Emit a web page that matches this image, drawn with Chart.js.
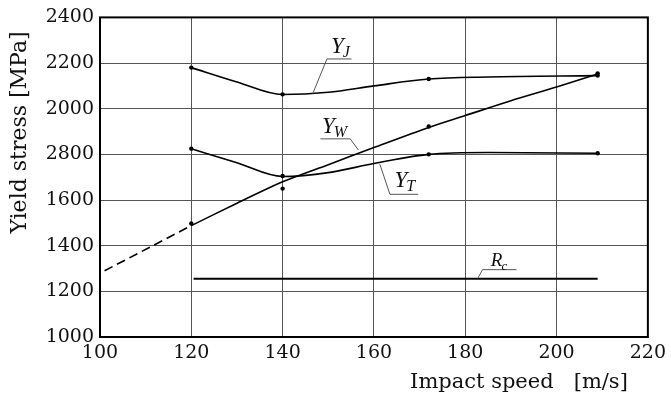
<!DOCTYPE html>
<html>
<head>
<meta charset="utf-8">
<script src="https://cdn.jsdelivr.net/npm/chart.js@4.4.0/dist/chart.umd.min.js"></script>
<style>
  body { margin: 0; background: #fff; }
  canvas { display: block; }
</style>
</head>
<body>
<canvas id="myChart" width="671" height="395"></canvas>
<script>
// axes
var speedMin = 100, speedMax = 220, speedStep = 20;
var stressMin = 1000, stressMax = 2400, stressStep = 200;
// the drawing labels the 1800 line as "2800", kept as printed
var stressTickLabels = ['1000', '1200', '1400', '1600', '2800', '2000', '2200', '2400'];

// measured points (dots)
var measuredSpeed = [120, 140, 172, 209];
var yjPoints = [2180, 2063, 2130, 2145];
var ytPoints = [1825, 1705, 1800, 1805];
var ywPoints = [1497, 1650, 1922, 2155];

// fitted curves
var yjCurveX = [120, 130, 140, 150, 160, 172, 185, 209];
var yjCurveY = [2180, 2117, 2062, 2072, 2100, 2130, 2139, 2145];
var ytCurveX = [120, 130, 140, 150, 160, 172, 185, 209];
var ytCurveY = [1825, 1763, 1703, 1720, 1760, 1800, 1808, 1805];
var ywCurveX = [120, 130, 140, 150, 160, 172, 180, 190, 200, 209];
var ywCurveY = [1488, 1586, 1680, 1755, 1830, 1918, 1970, 2035, 2095, 2152];
var ywDashX = [101, 120];
var ywDashY = [1290, 1488];
var rcX = [120.5, 209];
var rcY = [1255, 1255];

function zip(xs, ys) {
  var out = [];
  for (var i = 0; i < xs.length; i++) {
    out.push({x: xs[i], y: ys[i]});
  }
  return out;
}

// curve labels: underline + leader line, in data units
var curveLabels = [
  {main: 'Y', sub: 'J', size: 23, tx: 150.6, ux1: 149.7, ux2: 155.1, uy: 2218, lx: 146.6, ly: 2066, from: 'left', lift: 6},
  {main: 'Y', sub: 'W', size: 23, tx: 148.6, ux1: 148.3, ux2: 154.8, uy: 1868, lx: 156.6, ly: 1819, from: 'right', lift: 6},
  {main: 'Y', sub: 'T', size: 23, tx: 164.5, ux1: 163.5, ux2: 169.7, uy: 1625, lx: 161.3, ly: 1757, from: 'left', lift: 7},
  {main: 'R', sub: 'c', size: 19, tx: 185.6, ux1: 183.8, ux2: 191.2, uy: 1295, lx: 182.7, ly: 1256, from: 'left', lift: 4}
];

var frameAndLabels = {
  id: 'frameAndLabels',
  afterDatasetsDraw: function(chart) {
    var ctx = chart.ctx;
    var area = chart.chartArea;
    var xs = chart.scales.x;
    var ys = chart.scales.y;
    ctx.save();

    // thick box round the plot
    ctx.strokeStyle = '#000';
    ctx.lineWidth = 2;
    ctx.strokeRect(area.left, area.top, area.right - area.left, area.bottom - area.top);

    for (var i = 0; i < curveLabels.length; i++) {
      var c = curveLabels[i];
      var x1 = xs.getPixelForValue(c.ux1);
      var x2 = xs.getPixelForValue(c.ux2);
      var uy = ys.getPixelForValue(c.uy);
      var lx = xs.getPixelForValue(c.lx);
      var ly = ys.getPixelForValue(c.ly);

      ctx.strokeStyle = '#555';
      ctx.lineWidth = 1;
      ctx.beginPath();
      ctx.moveTo(x2, uy);
      ctx.lineTo(x1, uy);
      ctx.stroke();
      ctx.beginPath();
      ctx.moveTo(c.from === 'left' ? x1 : x2, uy);
      ctx.lineTo(lx, ly);
      ctx.stroke();

      var tx = xs.getPixelForValue(c.tx);
      var base = uy - c.lift;
      ctx.fillStyle = '#111';
      ctx.textBaseline = 'alphabetic';
      ctx.textAlign = 'left';
      ctx.font = 'italic ' + c.size + 'px "Liberation Serif"';
      ctx.fillText(c.main, tx, base);
      var w = ctx.measureText(c.main).width;
      ctx.font = 'italic ' + Math.round(c.size * 0.68) + 'px "Liberation Serif"';
      ctx.fillText(c.sub, tx + w - 1, base + 4);
    }
    ctx.restore();
  }
};

Chart.register(frameAndLabels);

var lineStyle = {
  borderColor: '#000',
  borderWidth: 1.6,
  pointRadius: 0,
  fill: false,
  showLine: true
};

function curve(label, xs, ys, extra) {
  var ds = Object.assign({}, lineStyle, {label: label, data: zip(xs, ys)});
  return Object.assign(ds, extra || {});
}

function dots(label, ys) {
  return {
    label: label,
    data: zip(measuredSpeed, ys),
    showLine: false,
    pointRadius: 2.2,
    pointBackgroundColor: '#000',
    pointBorderColor: '#000',
    pointBorderWidth: 0
  };
}

var config = {
  type: 'scatter',
  data: {
    datasets: [
      curve('Y_J', yjCurveX, yjCurveY, {cubicInterpolationMode: 'monotone'}),
      curve('Y_T', ytCurveX, ytCurveY, {cubicInterpolationMode: 'monotone'}),
      curve('Y_W', ywCurveX, ywCurveY, {tension: 0.3}),
      curve('Y_W extrapolated', ywDashX, ywDashY, {borderDash: [9, 5]}),
      curve('R_c', rcX, rcY, {borderWidth: 2}),
      dots('Y_J points', yjPoints),
      dots('Y_T points', ytPoints),
      dots('Y_W points', ywPoints)
    ]
  },
  options: {
    responsive: false,
    animation: false,
    devicePixelRatio: 1,
    layout: {padding: {top: 14, right: 19, left: 0, bottom: 0}},
    plugins: {
      legend: {display: false},
      tooltip: {enabled: false}
    },
    scales: {
      x: {
        type: 'linear',
        min: speedMin,
        max: speedMax,
        afterFit: function(scale) { scale.height = 58; },
        ticks: {
          stepSize: speedStep,
          color: '#111',
          padding: 5,
          maxRotation: 0,
          font: {family: 'DejaVu Serif', size: 19}
        },
        grid: {color: '#555', lineWidth: 1, drawTicks: false},
        border: {display: false},
        title: {
          display: true,
          text: 'Impact speed   [m/s]   ',
          align: 'end',
          color: '#111',
          padding: {top: 0, bottom: 0},
          font: {family: 'DejaVu Serif', size: 21}
        }
      },
      y: {
        type: 'linear',
        min: stressMin,
        max: stressMax,
        afterFit: function(scale) { scale.width = 100; },
        ticks: {
          stepSize: stressStep,
          color: '#111',
          padding: 6,
          font: {family: 'DejaVu Serif', size: 19},
          callback: function(value) {
            var idx = Math.round((value - stressMin) / stressStep);
            return stressTickLabels[idx];
          }
        },
        grid: {color: '#555', lineWidth: 1, drawTicks: false},
        border: {display: false},
        title: {
          display: true,
          text: 'Yield stress [MPa]  ',
          align: 'end',
          color: '#111',
          padding: {top: 7, bottom: 0},
          font: {family: 'DejaVu Serif', size: 22}
        }
      }
    }
  }
};

var myChart = new Chart(document.getElementById('myChart'), config);
</script>
</body>
</html>
